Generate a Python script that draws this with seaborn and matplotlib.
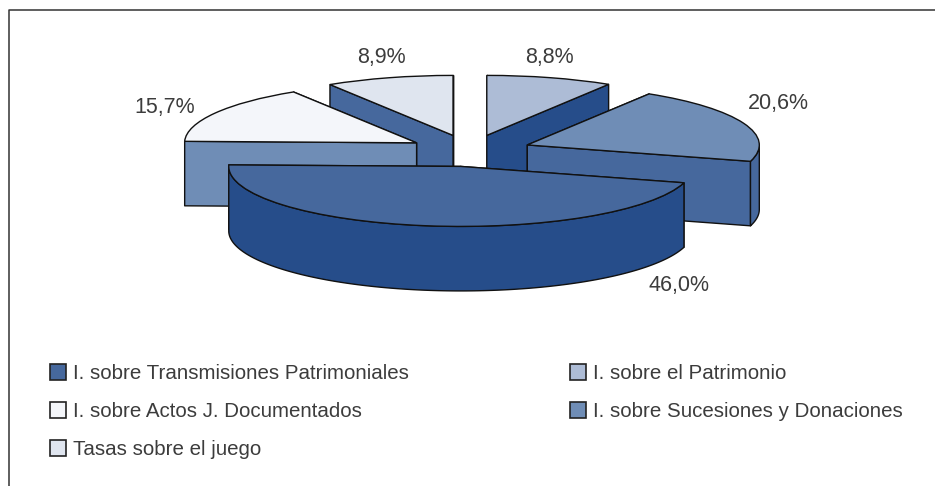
import numpy as np
import matplotlib
matplotlib.use("Agg")
import matplotlib.pyplot as plt
from matplotlib.lines import Line2D
from matplotlib.patches import Patch
import seaborn as sns

# --- data, clockwise from 12 o'clock ---
categories = ['I. sobre el Patrimonio', 'I. sobre Sucesiones y Donaciones',
              'I. sobre Transmisiones Patrimoniales', 'I. sobre Actos J. Documentados',
              'Tasas sobre el juego']
shares = [8.8, 20.6, 46.0, 15.7, 8.9]
share_labels = ['8,8%', '20,6%', '46,0%', '15,7%', '8,9%']
top_colors = ['#adbcd6', '#6f8db6', '#46689d', '#f4f6fa', '#dfe5ef']
wall_colors = ['#264d8a', '#46689d', '#264d8a', '#6f8db6', '#46689d']

# --- layout, in pixels of the 935x486 figure ---
W, H = 935, 486
CENTER_X, CENTER_Y = 470, 150.7
RX, RY = 232, 60
DEPTH = 64.5 / RY
EXPLODE = 0.265
LABEL_PX = [(549, 58), (778, 104), (679, 285), (165, 107), (381, 58)]
LEGEND_ORDER = [2, 3, 4, 0, 1]
DRAW_ORDER = [0, 4, 3, 1, 2]
EDGE = '#111111'
TEXT = '#3c3c3c'

sns.set_theme(style='white')
plt.rcParams['font.family'] = ['Liberation Sans', 'DejaVu Sans']


def draw_walls(ax, wedge, color, z):
    """Extruded side of one pie wedge: radial faces first (back one first), then the rim."""
    cx, cy = wedge.center
    style = dict(facecolor=color, edgecolor=EDGE, linewidth=1, zorder=z, joinstyle='round')
    ends = sorted([wedge.theta1, wedge.theta2], key=lambda t: -np.sin(np.radians(t)))
    for t in ends:
        ex = cx + wedge.r * np.cos(np.radians(t))
        ey = cy + wedge.r * np.sin(np.radians(t))
        ax.fill([cx, ex, ex, cx], [cy, ey, ey - DEPTH, cy - DEPTH], **style)
    # rim only where it faces the viewer
    theta = np.radians(np.linspace(wedge.theta1, wedge.theta2, 240))
    theta = theta[np.sin(theta) <= 0]
    if theta.size > 1:
        x = cx + wedge.r * np.cos(theta)
        y = cy + wedge.r * np.sin(theta)
        ax.fill(np.r_[x, x[::-1]], np.r_[y, y[::-1] - DEPTH], **style)


fig = plt.figure(figsize=(W / 100, H / 100), dpi=100)
ax = fig.add_axes([0, 0, 1, 1])

wedges, _ = ax.pie(shares, startangle=90, counterclock=False, colors=top_colors,
                   explode=[EXPLODE] * len(shares), normalize=True,
                   wedgeprops=dict(edgecolor=EDGE, linewidth=1))
ax.set_aspect('auto')
ax.set_xlim(-CENTER_X / RX, (W - CENTER_X) / RX)
ax.set_ylim(-(H - CENTER_Y) / RY, CENTER_Y / RY)
ax.axis('off')

for rank, i in enumerate(DRAW_ORDER):
    z = 2 + rank
    draw_walls(ax, wedges[i], wall_colors[i], z)
    wedges[i].set_zorder(z + 0.5)

for label, (px, py) in zip(share_labels, LABEL_PX):
    fig.text(px / W, 1 - py / H, label, ha='center', va='center', fontsize=15.5, color=TEXT)

handles = [Patch(facecolor=top_colors[i], edgecolor='#222222', linewidth=1.2) for i in LEGEND_ORDER]
names = [categories[i] for i in LEGEND_ORDER]
fig.legend(handles, names, ncol=2, frameon=False, loc='upper left',
           bbox_to_anchor=(44 / W, 1 - 358 / H), fontsize=14.8, labelcolor=TEXT,
           handlelength=0.78, handleheight=0.8, handletextpad=0.33,
           columnspacing=7.85, labelspacing=0.93, borderpad=0.3, borderaxespad=0)

# open frame: only top and left rules reach the picture edge
fig.add_artist(Line2D([9 / W, 9 / W, 1], [0, 1 - 10 / H, 1 - 10 / H], color='#333333', linewidth=1.1))

fig.savefig('out.png', dpi=100)
